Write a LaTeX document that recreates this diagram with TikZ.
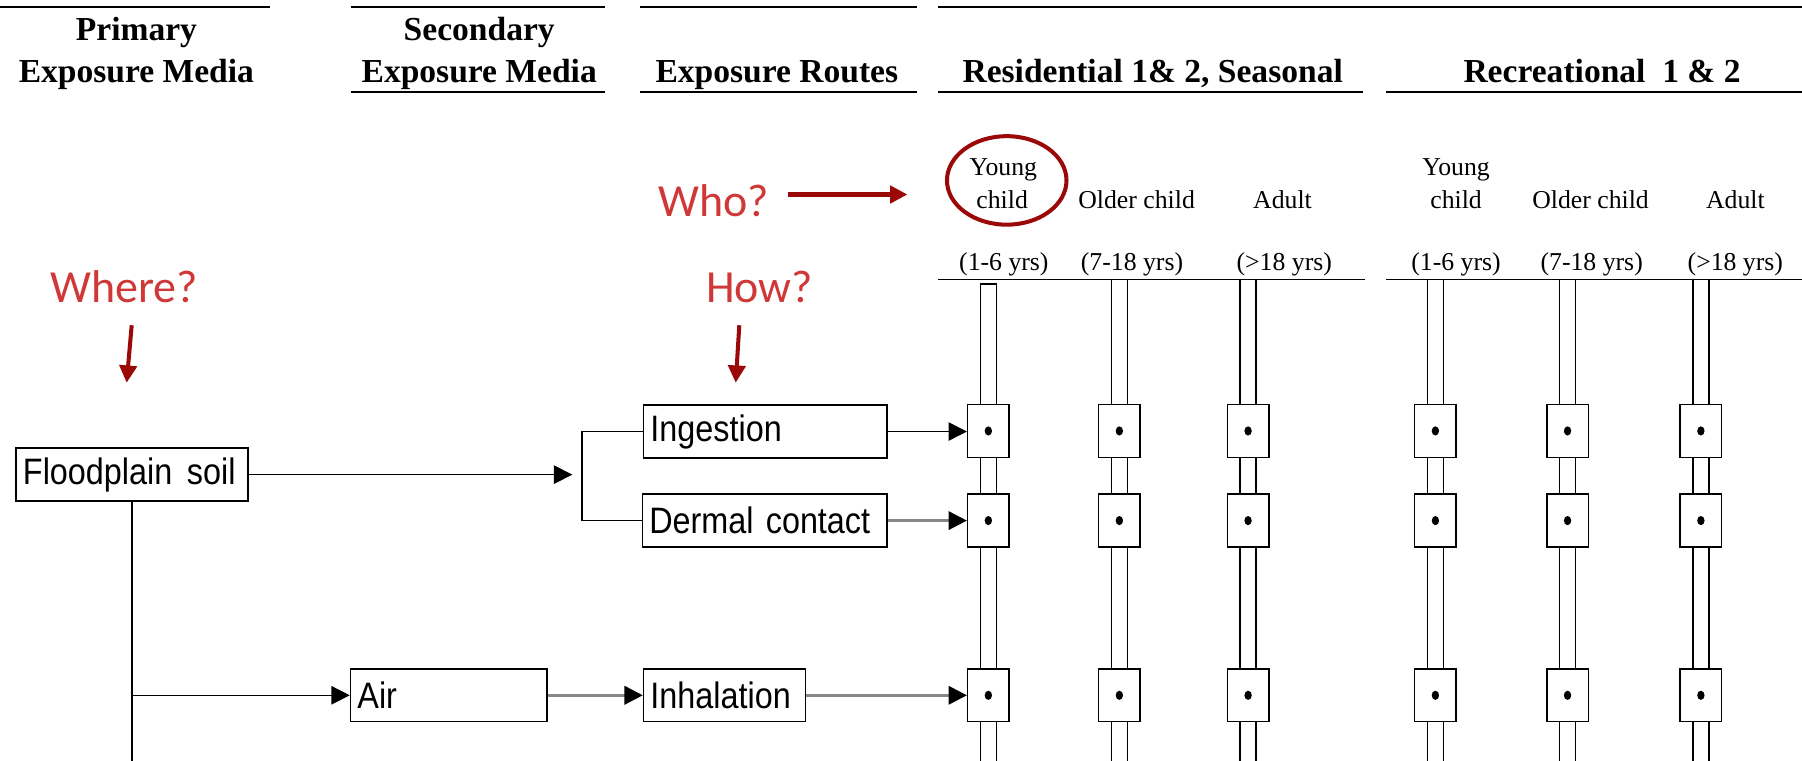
\documentclass[tikz,border=0pt]{standalone}
\usepackage{fontspec}
\setmainfont{Liberation Serif}
\newfontfamily\boxfont[FakeStretch=0.88]{Liberation Sans}
\newfontfamily\notefont{Carlito}
\usetikzlibrary{arrows.meta,shapes.geometric}
\definecolor{noteRed}{RGB}{208,56,56}
\definecolor{arrRed}{RGB}{155,8,8}
\definecolor{lineGray}{RGB}{135,135,135}
\begin{document}
\begin{tikzpicture}[x=0.5pt,y=-0.5pt,
  hdr/.style={font=\fontsize{14.6}{17}\selectfont\bfseries, anchor=base, inner sep=0pt},
  lbl/.style={font=\fontsize{11.2}{13}\selectfont, anchor=base, inner sep=0pt},
  mbox/.style={draw, line width=0.65pt, font=\boxfont\fontsize{16}{18}\selectfont, inner xsep=3pt, inner ysep=0pt, minimum height=23pt, align=left},
  cbox/.style={draw, line width=0.65pt, minimum width=18pt, minimum height=23pt, inner sep=0pt},
  conn/.style={line width=0.65pt, -{Triangle[length=8pt,width=8pt]}},
  gconn/.style={line width=1.1pt, draw=lineGray, -{Triangle[length=8pt,width=8pt,color=black]}},
  wire/.style={line width=0.65pt},
  pipe/.style={line width=0.6pt},
  hrule/.style={line width=1.2pt},
  note/.style={text=noteRed, font=\notefont\fontsize{20}{24}\selectfont, anchor=base, inner sep=0pt},
  redarr/.style={draw=arrRed, line width=1.75pt, -{Triangle[length=7.5pt,width=7.5pt]}},
]
\useasboundingbox (0,0) rectangle (1568,662);

% header rules
\foreach \a/\b in {0/235,305/526,557/798,816/1568} \draw[hrule] (\a,6) -- (\b,6);
\foreach \a/\b in {305/526,557/798,816/1186,1206/1568} \draw[hrule] (\a,80) -- (\b,80);
\foreach \a/\b in {816/1188,1206/1568} \draw[pipe] (\a,243) -- (\b,243);

% header texts
\node[hdr] (h1a) at (118.7,35) {Primary};
\node[hdr] (h1b) at (118.7,72) {Exposure Media};
\node[hdr] (h2a) at (417,35) {Secondary};
\node[hdr] (h2b) at (417,72) {Exposure Media};
\node[hdr] (h3) at (676,72) {Exposure Routes};
\node[hdr] (h4) at (1003,72) {Residential 1\& 2, Seasonal};
\node[hdr] (h5) at (1394,72) {Recreational\ \ 1 \& 2};

% receptor labels
\node[lbl] (l1a) at (873,153) {Young};
\node[lbl] (l1b) at (872,181) {child};
\node[lbl] (l2) at (989,181) {Older child};
\node[lbl] (l3) at (1116,181) {Adult};
\node[lbl] (l4a) at (1267,153) {Young};
\node[lbl] (l4b) at (1267,181) {child};
\node[lbl] (l5) at (1384,181) {Older child};
\node[lbl] (l6) at (1510,181) {Adult};
\node[lbl] (a1) at (873.5,235) {(1-6 yrs)};
\node[lbl] (a2) at (985,235) {(7-18 yrs)};
\node[lbl] (a3) at (1117.5,235) {(>18 yrs)};
\node[lbl] (a4) at (1267,235) {(1-6 yrs)};
\node[lbl] (a5) at (1385,235) {(7-18 yrs)};
\node[lbl] (a6) at (1510,235) {(>18 yrs)};

% column boxes
\coordinate (hl) at (0,243);
\coordinate (ytop) at (0,247);
\coordinate (bot) at (0,662);
\foreach \k/\x in {1/860,2/974,3/1086,4/1249,5/1364,6/1480}{
  \foreach \r/\y in {1/375,2/453,3/605}{
    \node[cbox] (c\k\r) at (\x,\y) {};
    \fill (c\k\r) ellipse [x radius=1.6pt, y radius=2pt];
  }
}
\foreach \k in {1,...,6}{
  \foreach \s in {-3.5pt,3.5pt}{
    \draw[pipe] ([xshift=\s]c\k1.south) -- ([xshift=\s]c\k2.north);
    \draw[pipe] ([xshift=\s]c\k2.south) -- ([xshift=\s]c\k3.north);
    \draw[pipe] ([xshift=\s]c\k3.south) -- ([xshift=\s]c\k3.south |- bot);
  }
}
\foreach \k in {2,...,6}{
  \foreach \s in {-3.5pt,3.5pt}{
    \draw[pipe] ([xshift=\s]c\k1.north) -- ([xshift=\s]c\k1.north |- hl);
  }
}
\draw[pipe] ([xshift=-3.5pt]c11.north) -- ([xshift=-3.5pt]c11.north |- ytop) -- ([xshift=3.5pt]c11.north |- ytop) -- ([xshift=3.5pt]c11.north);

% media boxes
\node[mbox, text width=95pt] (fs) at (115,413) {\mbox{Floodplain\hspace{0.4em}soil}};
\node[mbox, text width=100pt] (ing) at (666,375.5) {Ingestion};
\node[mbox, text width=100.5pt] (derm) at (665.5,453) {Dermal contact};
\node[mbox, text width=79.5pt] (air) at (390.5,605) {Air};
\node[mbox, text width=64.5pt] (inh) at (630.5,605) {Inhalation};

% connectors
\coordinate (fstip) at (498,413);
\draw[conn] (fs.east) -- (fstip);
\draw[wire] (ing.west) -- ++(-53,0) |- (derm.west);
\draw[conn] (ing.east) -- (ing.east -| c11.west);
\draw[gconn] (derm.east) -- (c12.west);
\draw[gconn] (inh.east) -- (c13.west);
\draw[wire] (fs.south) -- (fs.south |- bot);
\draw[conn] (fs.south |- air.west) -- (air.west);
\draw[gconn] (air.east) -- (inh.west);

% annotations
\node[note] (who) at (621,188) {Who?};
\draw[redarr] ([xshift=8pt,yshift=2.5pt]who.east) -- ([xshift=60pt,yshift=2.5pt]who.east);
\node[note] (where) at (108,263) {Where?};
\coordinate (wt) at (114.6,283);
\coordinate (wh) at (110.2,333);
\draw[redarr] (wt) -- (wh);
\node[note] (how) at (661,263) {How?};
\coordinate (ht) at (643.3,283);
\coordinate (hh) at (640.2,333);
\draw[redarr] (ht) -- (hh);
\node[draw=arrRed, line width=1.75pt, ellipse, inner sep=0pt, minimum width=52pt, minimum height=38.5pt] (ring) at (876,157) {};
\end{tikzpicture}
\end{document}
